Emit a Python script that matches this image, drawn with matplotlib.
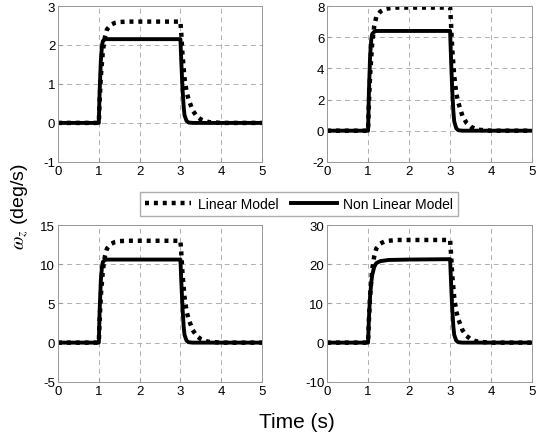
import matplotlib.pyplot as plt

plt.rcParams['font.family'] = ['Liberation Sans', 'DejaVu Sans']
plt.rcParams['mathtext.fontset'] = 'stix'
plt.rcParams['axes.unicode_minus'] = False

# time samples for the two models (s)
t_lin = [0, 1.0, 1.02, 1.05, 1.1, 1.15, 1.2, 1.3, 1.4, 1.5, 1.7, 2.0, 2.5,
         3.0, 3.02, 3.05, 3.1, 3.15, 3.2, 3.3, 3.4, 3.5, 3.6, 3.7, 4.0, 5.0]
t_nl = [0, 1.0, 1.02, 1.05, 1.08, 1.1, 1.15, 1.2, 1.3, 1.5, 2.0,
        3.0, 3.02, 3.05, 3.08, 3.1, 3.15, 3.2, 3.3, 5.0]

# yaw rate, linear model (deg/s)
lin_a = [0, 0, 0.55, 1.2, 1.85, 2.2, 2.4, 2.52, 2.57, 2.59, 2.6, 2.6, 2.6,
         2.6, 2.3, 1.75, 1.15, 0.8, 0.6, 0.32, 0.17, 0.09, 0.05, 0.02, 0, 0]
lin_b = [0, 0, 1.7, 3.6, 5.6, 6.7, 7.3, 7.65, 7.8, 7.85, 7.9, 7.9, 7.9,
         7.9, 7.0, 5.3, 3.5, 2.4, 1.8, 0.95, 0.5, 0.26, 0.14, 0.06, 0, 0]
lin_c = [0, 0, 2.8, 6.0, 9.3, 11.0, 12.0, 12.6, 12.85, 12.95, 13, 13, 13,
         13, 11.5, 8.8, 5.8, 4.0, 3.0, 1.6, 0.85, 0.45, 0.23, 0.1, 0, 0]
lin_d = [0, 0, 5.5, 12, 18.6, 22, 24, 25.3, 25.8, 26, 26.2, 26.2, 26.2,
         26.2, 23, 17.5, 11.5, 8, 6, 3.2, 1.7, 0.9, 0.45, 0.2, 0, 0]

# yaw rate, non linear model (deg/s)
nl_a = [0, 0, 0.8, 1.6, 2.0, 2.1, 2.15, 2.15, 2.15, 2.15, 2.15,
        2.15, 1.6, 0.9, 0.4, 0.2, 0.05, 0.01, 0, 0]
nl_b = [0, 0, 2.4, 4.8, 5.9, 6.2, 6.35, 6.4, 6.4, 6.4, 6.4,
        6.4, 4.8, 2.7, 1.2, 0.6, 0.15, 0.03, 0, 0]
nl_c = [0, 0, 4, 8, 9.8, 10.3, 10.55, 10.6, 10.6, 10.6, 10.6,
        10.6, 8, 4.5, 2, 1, 0.25, 0.05, 0, 0]
nl_d = [0, 0, 6, 12, 15.5, 17.2, 19.3, 20.3, 20.8, 21.1, 21.2,
        21.3, 16, 9, 4, 2, 0.5, 0.1, 0, 0]

ylims = [(-1, 3), (-2, 8), (-5, 15), (-10, 30)]
yticks = [[-1, 0, 1, 2, 3], [-2, 0, 2, 4, 6, 8], [-5, 0, 5, 10, 15],
          [-10, 0, 10, 20, 30]]
lin_all = [lin_a, lin_b, lin_c, lin_d]
nl_all = [nl_a, nl_b, nl_c, nl_d]

fig = plt.figure(figsize=(5.37, 4.39), dpi=100)
boxes = [[0.108, 0.629, 0.380, 0.355], [0.609, 0.629, 0.382, 0.355],
         [0.108, 0.128, 0.380, 0.357], [0.609, 0.128, 0.382, 0.357]]

for i in range(4):
    ax = fig.add_axes(boxes[i])
    l1, = ax.plot(t_lin, lin_all[i], color='black', lw=3.2,
                  linestyle=(0, (0.9, 1.1)), dash_capstyle='butt',
                  label='Linear Model')
    l2, = ax.plot(t_nl, nl_all[i], color='black', lw=2.8,
                  label='Non Linear Model')
    ax.set_xlim(0, 5)
    ax.set_ylim(*ylims[i])
    ax.set_xticks([0, 1, 2, 3, 4, 5])
    ax.set_yticks(yticks[i])
    ax.grid(True, linestyle=(0, (5, 4)), color='#b0b0b0', lw=0.7)
    ax.tick_params(labelsize=9.5, length=3, direction='in', color='#999999',
                   pad=2)
    for s in ax.spines.values():
        s.set_color('#999999')
        s.set_linewidth(0.7)

fig.legend(handles=[l1, l2], loc='center', bbox_to_anchor=(0.557, 0.533),
           ncol=2, fontsize=10, frameon=True, fancybox=False,
           edgecolor='#999999', handlelength=3.3, columnspacing=0.9,
           handletextpad=0.5, borderpad=0.35)

fig.text(0.037, 0.53, r'$\omega_z$ (deg/s)', rotation=90, va='center',
         ha='center', fontsize=14)
fig.text(0.553, 0.038, 'Time (s)', ha='center', va='center', fontsize=15)

plt.savefig('out.png', dpi=100)
